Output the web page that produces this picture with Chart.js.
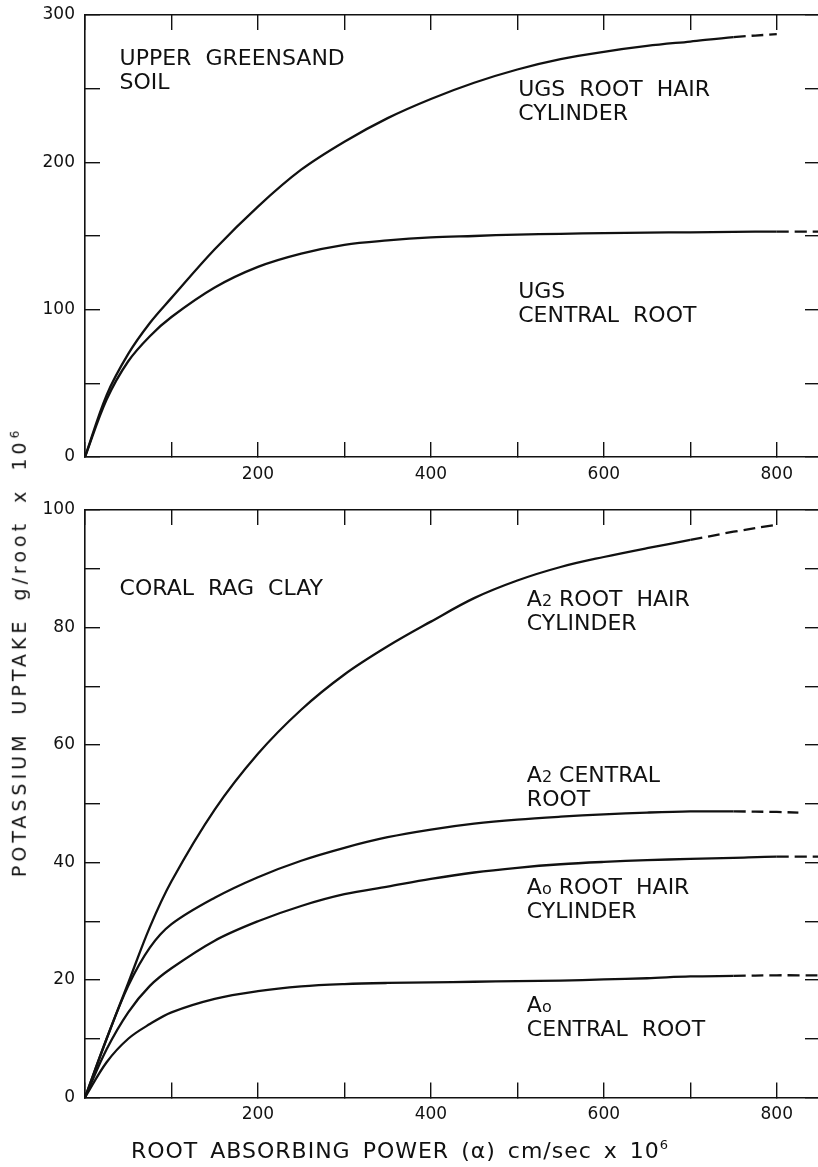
<!DOCTYPE html>
<html lang="en">
<head>
<meta charset="UTF-8">
<title>Potassium uptake</title>
<script src="https://cdn.jsdelivr.net/npm/chart.js"></script>
<style>
  body { margin: 0; width: 818px; height: 1167px; overflow: hidden; background: #fff; position: relative; font-family: "DejaVu Sans", sans-serif; color: #111; }
  canvas { position: absolute; left: 0; }
  #cTop { top: 0; }
  #cBottom { top: 490px; }
  .title { position: absolute; white-space: nowrap; }
  #xtitle { left: 400px; top: 1150px; transform: translate(-50%, -50%); font-size: 22px; letter-spacing: 1px; word-spacing: 4px; }
  #ytitle { left: 19px; top: 652px; transform: translate(-50%, -50%) rotate(-90deg); font-size: 19px; letter-spacing: 4px; word-spacing: 7px; }
</style>
</head>
<body>
<canvas id="cTop" width="820" height="500"></canvas>
<canvas id="cBottom" width="820" height="677"></canvas>
<div class="title" id="xtitle">ROOT ABSORBING POWER (α) cm/sec x 10<sup style="font-size:13px">6</sup></div>
<div class="title" id="ytitle">POTASSIUM UPTAKE g/root x 10<sup style="font-size:12px">6</sup></div>
<script>
// root absorbing power (x values)
const alpha = [0, 25, 50, 75, 100, 150, 200, 250, 300, 350, 400, 450, 500, 550, 600, 650, 700, 750, 800, 825, 850];

// upper greensand soil
const ugsHair    = [0, 42, 70, 91, 108, 141, 170, 195, 214, 230, 243, 254, 263, 270, 275, 279, 282, 285, 287, null, null];
const ugsCentral = [0, 39, 65, 82, 95, 115, 129, 138, 144, 147, 149, 150, 151, 151.5, 152, 152.3, 152.5, 152.8, 153, 153, 153];

// coral rag clay
const a2Hair    = [0, 10, 19.5, 29, 36.8, 49, 58.5, 66, 72, 76.8, 81, 85, 88, 90.3, 92, 93.5, 94.9, 96.3, 97.5, null, null];
const a2Central = [0, 10, 19, 25.5, 29.5, 34, 37.5, 40.3, 42.5, 44.3, 45.6, 46.6, 47.3, 47.8, 48.2, 48.5, 48.7, 48.7, 48.6, 48.5, null];
const a0Hair    = [0, 8.2, 14.5, 19, 22, 26.7, 30, 32.6, 34.6, 35.9, 37.2, 38.3, 39.1, 39.7, 40.1, 40.4, 40.6, 40.8, 41, 41, 41];
const a0Central = [0, 6, 10, 12.5, 14.5, 16.8, 18.1, 18.9, 19.3, 19.5, 19.6, 19.7, 19.8, 19.9, 20.1, 20.3, 20.6, 20.7, 20.8, 20.8, 20.8];

// tick marks and tick labels
const xTicks = [0, 100, 200, 300, 400, 500, 600, 700, 800];
const xTickLabels = [200, 400, 600, 800];
const topYLabels = [0, 100, 200, 300];
const bottomYLabels = [0, 20, 40, 60, 80, 100];

// curve labels (data coords of first baseline), "_" = small character
const topNotes = [
  { x: 40, y: 266, lines: [['UPPER  GREENSAND'], ['SOIL']] },
  { x: 501, y: 245, lines: [['UGS  ROOT  HAIR'], ['CYLINDER']] },
  { x: 501, y: 108, lines: [['UGS'], ['CENTRAL  ROOT']] }
];
const bottomNotes = [
  { x: 40, y: 85.6, lines: [['CORAL  RAG  CLAY']] },
  { x: 511, y: 83.7, lines: [['A', '_2', ' ROOT  HAIR'], ['CYLINDER']] },
  { x: 511, y: 53.7, lines: [['A', '_2', ' CENTRAL'], ['ROOT']] },
  { x: 511, y: 34.7, lines: [['A', '_o', ' ROOT  HAIR'], ['CYLINDER']] },
  { x: 511, y: 14.6, lines: [['A', '_o'], ['CENTRAL  ROOT']] }
];

Chart.defaults.font.family = '"DejaVu Sans", sans-serif';
Chart.defaults.color = '#111';

const ink = '#111';

function pts(vals) {
  const out = [];
  for (let i = 0; i < alpha.length; i++) {
    if (vals[i] !== null) out.push({ x: alpha[i], y: vals[i] });
  }
  return out;
}

function curve(vals, dashFrom) {
  return {
    data: pts(vals),
    borderColor: ink,
    borderWidth: 2.3,
    pointRadius: 0,
    tension: 0.35,
    segment: {
      borderDash: ctx => ctx.p0.parsed.x >= dashFrom ? [12, 6] : undefined
    }
  };
}

const notesPlugin = {
  id: 'notes',
  afterDatasetsDraw(chart, args, opts) {
    const ctx = chart.ctx;
    const xs = chart.scales.x, ys = chart.scales.y;
    ctx.save();
    ctx.fillStyle = ink;
    ctx.textBaseline = 'alphabetic';
    opts.items.forEach(n => {
      const x0 = xs.getPixelForValue(n.x);
      const y0 = ys.getPixelForValue(n.y);
      n.lines.forEach((line, i) => {
        let x = x0;
        line.forEach(run => {
          const small = run.startsWith('_');
          const t = small ? run.slice(1) : run;
          ctx.font = small ? '16px "DejaVu Sans"' : '22px "DejaVu Sans"';
          ctx.fillText(t, x, y0 + i * 24);
          x += ctx.measureText(t).width;
        });
      });
    });
    ctx.restore();
  }
};

function axisGrid() {
  return { drawOnChartArea: false, drawTicks: true, tickLength: -15, color: ink, lineWidth: 1.4 };
}
function axisBorder() {
  return { display: true, color: ink, width: 1.6 };
}
function noPad(s) {
  s.paddingLeft = 0; s.paddingRight = 0; s.paddingTop = 0; s.paddingBottom = 0;
}
function fixedTicks(values) {
  return s => { s.ticks = values.map(v => ({ value: v })); };
}

function makeChart(id, datasets, yMax, yStep, yLabels, padTop, xAxisH, notes) {
  const yTicks = [];
  for (let v = 0; v <= yMax; v += yStep) yTicks.push(v);
  return new Chart(document.getElementById(id), {
    type: 'line',
    data: { datasets: datasets },
    options: {
      responsive: false,
      animation: false,
      layout: { padding: { top: padTop, right: 0, left: 0, bottom: 0 } },
      plugins: { legend: { display: false }, tooltip: { enabled: false }, notes: { items: notes } },
      scales: {
        x: {
          type: 'linear', position: 'bottom', min: 0, max: 850,
          grid: axisGrid(), border: axisBorder(),
          afterBuildTicks: fixedTicks(xTicks),
          ticks: {
            autoSkip: false, maxRotation: 0, minRotation: 0, padding: 22,
            font: { size: 17 },
            callback: v => xTickLabels.includes(v) ? v : ''
          },
          afterFit: s => { s.height = xAxisH; noPad(s); }
        },
        x2: {
          type: 'linear', position: 'top', min: 0, max: 850,
          grid: axisGrid(), border: axisBorder(),
          afterBuildTicks: fixedTicks(xTicks),
          ticks: { display: false, autoSkip: false },
          afterFit: s => { s.height = 0; noPad(s); }
        },
        y: {
          type: 'linear', position: 'left', min: 0, max: yMax,
          grid: axisGrid(), border: axisBorder(),
          afterBuildTicks: fixedTicks(yTicks),
          ticks: {
            autoSkip: false, padding: 25,
            font: { size: 17 },
            callback: v => yLabels.includes(v) ? v : ''
          },
          afterFit: s => { s.width = 85; noPad(s); }
        },
        y2: {
          type: 'linear', position: 'right', min: 0, max: yMax,
          grid: axisGrid(), border: axisBorder(),
          afterBuildTicks: fixedTicks(yTicks),
          ticks: { display: false, autoSkip: false },
          afterFit: s => { s.width = 0; noPad(s); }
        }
      }
    },
    plugins: [notesPlugin]
  });
}

makeChart('cTop', [
  curve(ugsHair, 750),
  curve(ugsCentral, 800)
], 300, 50, topYLabels, 15, 43, topNotes);

makeChart('cBottom', [
  curve(a2Hair, 700),
  curve(a2Central, 750),
  curve(a0Hair, 800),
  curve(a0Central, 750)
], 100, 10, bottomYLabels, 20, 69.5, bottomNotes);
</script>
</body>
</html>
